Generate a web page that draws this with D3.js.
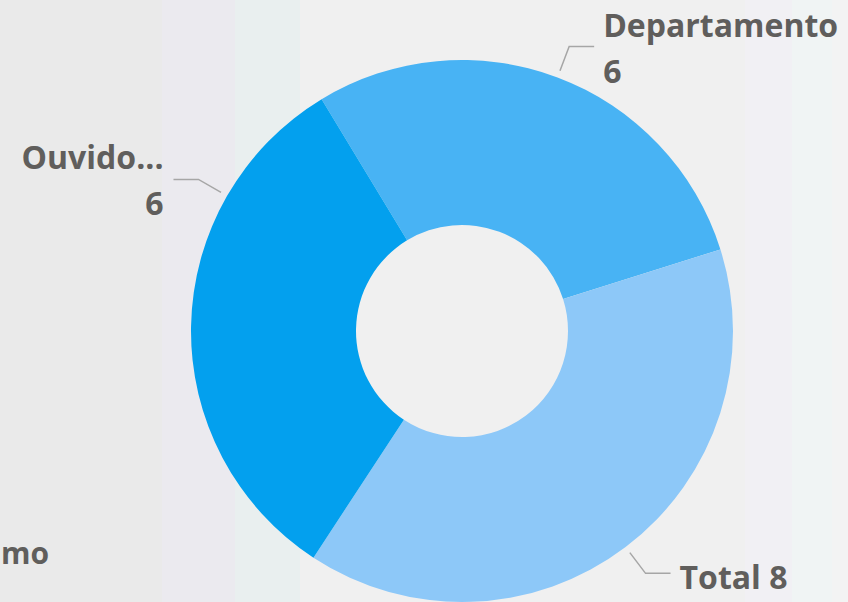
<!DOCTYPE html>
<html>
<head>
<meta charset="utf-8">
<script src="https://cdn.jsdelivr.net/npm/d3@7"></script>
<style>
  html, body { margin: 0; padding: 0; }
  body {
    width: 848px; height: 602px; overflow: hidden;
    background: linear-gradient(to right,
      #eaeaea 0px, #eaeaea 162px,
      #ebeaef 162px, #ebeaef 235px,
      #e9efef 235px, #e9efef 300px,
      #f0f0f0 300px, #f0f0f0 745px,
      #f1f0f4 745px, #f1f0f4 792px,
      #f0f4f4 792px, #f0f4f4 832px,
      #f3f3f3 832px);
  }
  text { font-family: "Open Sans", "Noto Sans", sans-serif; font-weight: 700; fill: #605e5c; }
</style>
</head>
<body>
<svg width="848" height="602"></svg>
<script>
// slices, clockwise from the first one
const categories = ["Departamento", "Total", "Ouvido..."]
const values = [5.76, 7.82, 6.42]
const colors = ["#48b3f4", "#8dc8f8", "#03a0ee"]
// where along its slice each leader line sits (0..1), and whether the label wraps
const labelAt = [0.5, 0.5, 0.75]
const twoLine = [true, false, true]
const cutOffText = "mo"

const svg = d3.select("svg")
const cx = 462, cy = 331
const outerR = 271, innerR = 106
const start = -31.2 * Math.PI / 180

const pie = d3.pie().sort(null).value(d => d)
  .startAngle(start).endAngle(start + 2 * Math.PI)
const arcs = pie(values)

const arc = d3.arc().innerRadius(innerR).outerRadius(outerR)

const g = svg.append("g").attr("transform", `translate(${cx},${cy})`)

g.selectAll("path.slice")
  .data(arcs)
  .enter().append("path")
  .attr("class", "slice")
  .attr("d", arc)
  .attr("fill", (d, i) => colors[i])

const fmt = d3.format(".0f")
const fontSize = 32

arcs.forEach((d, i) => {
  const a = d.startAngle + (d.endAngle - d.startAngle) * labelAt[i]
  const sx = Math.sin(a), sy = -Math.cos(a)
  const p1 = [sx * 278, sy * 278]
  const p2 = [sx * 304, sy * 304]
  const right = sx >= 0
  const p3 = [p2[0] + (right ? 25 : -25), p2[1]]

  g.append("polyline")
    .attr("points", [p1, p2, p3].map(p => p.join(",")).join(" "))
    .attr("fill", "none")
    .attr("stroke", "#a6a6a6")
    .attr("stroke-width", 1.5)

  const tx = p3[0] + (right ? 9 : -10)
  const anchor = right ? "start" : "end"
  if (twoLine[i]) {
    g.append("text")
      .attr("x", tx).attr("y", p3[1] - 10)
      .attr("text-anchor", anchor)
      .style("font-size", fontSize + "px")
      .text(categories[i])
    g.append("text")
      .attr("x", tx).attr("y", p3[1] + 36)
      .attr("text-anchor", anchor)
      .style("font-size", fontSize + "px")
      .text(fmt(values[i]))
  } else {
    g.append("text")
      .attr("x", tx).attr("y", p3[1] + 16)
      .attr("text-anchor", anchor)
      .style("font-size", fontSize + "px")
      .text(categories[i] + " " + fmt(values[i]))
  }
})

// label of a neighbouring visual, at the left edge
svg.append("text")
  .attr("x", 1).attr("y", 564)
  .style("font-size", "30px")
  .text(cutOffText)
</script>
</body>
</html>
